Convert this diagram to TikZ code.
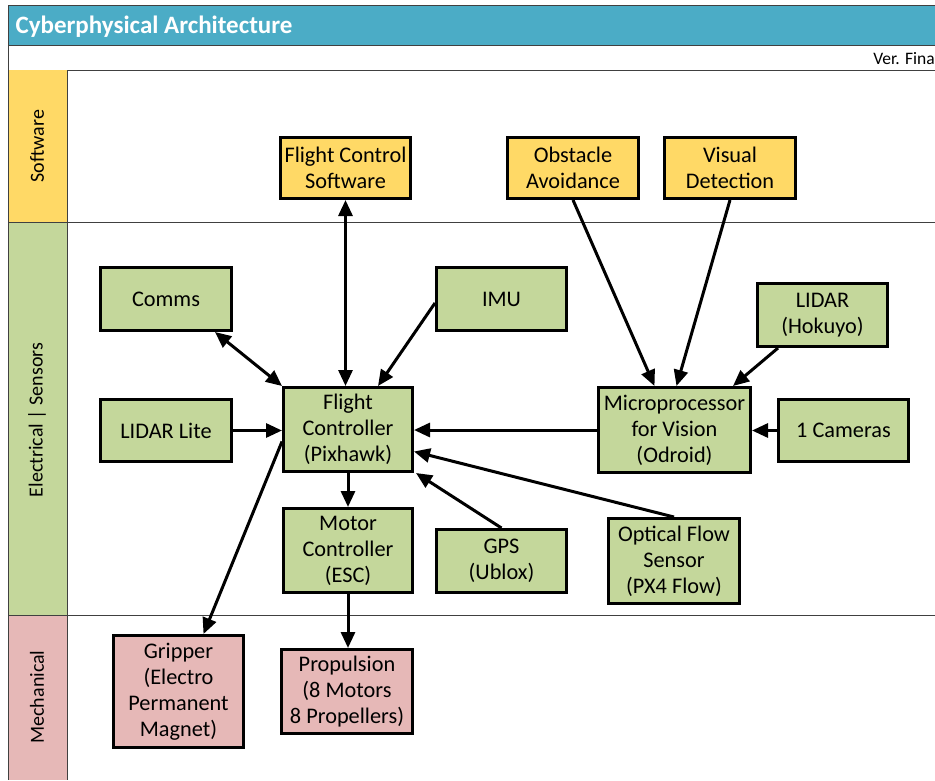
\documentclass[tikz,border=0pt]{standalone}
\usepackage{fontspec}
\setmainfont{Carlito}
\usetikzlibrary{arrows.meta}
\definecolor{hdr}{HTML}{4BACC6}
\definecolor{swfill}{HTML}{FFD966}
\definecolor{elfill}{HTML}{C4D79B}
\definecolor{mefill}{HTML}{E6B8B7}
\definecolor{rule}{HTML}{404040}
\begin{document}
\begin{tikzpicture}[x=1pt,y=-1pt,
  box/.style={draw=black, line width=3pt, align=center, inner sep=0pt,
    font=\fontsize{22.3}{26}\selectfont},
  swbox/.style={box, fill=swfill},
  elbox/.style={box, fill=elfill},
  mebox/.style={box, fill=mefill},
  tip/.tip={Triangle[length=16pt,width=14pt]},
  link/.style={line width=3pt, -tip},
  both/.style={line width=3pt, tip-tip},
  lanetxt/.style={rotate=90, font=\fontsize{20}{24}\selectfont},
  frame/.style={draw=rule, line width=1pt}]
\useasboundingbox (0,0) rectangle (935,780);

% title bars
\fill[hdr] (8,5) rectangle (935,45);
\draw[frame] (935,5) -- (8,5) -- (8,780);
\draw[frame] (8,45) -- (935,45);
\draw[frame] (8,70) -- (935,70);
\node[anchor=west, text=white, font=\bfseries\fontsize{25}{28}\selectfont] (title) at (12,27) {Cyberphysical Architecture};
\node[anchor=east, font=\fontsize{17.5}{20}\selectfont, inner sep=0pt] (ver) at (935,59) {Ver. Fina};

% swim lanes
\fill[swfill] (8,70) rectangle (67,222);
\fill[elfill] (8,222) rectangle (67,615);
\fill[mefill] (8,615) rectangle (67,780);
\draw[frame] (67,70) -- (67,780);
\draw[frame] (8,222) -- (935,222);
\draw[frame] (8,615) -- (935,615);
\draw[frame] (8,70) -- (8,780);
\node[lanetxt] (lsw) at (37,146) {Software};
\node[lanetxt] (lel) at (37,420) {Electrical | Sensors};
\node[lanetxt] (lme) at (37,697) {Mechanical};

% software
\node[swbox, minimum width=130pt, minimum height=61pt] (fcs) at (345.5,168) {Flight Control\\Software};
\node[swbox, minimum width=131pt, minimum height=61pt] (oa) at (573,168) {Obstacle\\Avoidance};
\node[swbox, minimum width=131pt, minimum height=61pt] (vd) at (730,168) {Visual\\Detection};

% electrical / sensors
\node[elbox, minimum width=131pt, minimum height=63pt] (comms) at (166,299) {Comms};
\node[elbox, minimum width=130pt, minimum height=63pt] (imu) at (501.5,299) {IMU};
\node[elbox, minimum width=130pt, minimum height=63pt] (hok) at (822.5,315) {LIDAR\\(Hokuyo)};
\node[elbox, minimum width=131pt, minimum height=62pt] (lite) at (166,430.5) {LIDAR Lite};
\node[elbox, minimum width=129pt, minimum height=84pt] (fc) at (348,429.5) {Flight\\Controller\\(Pixhawk)};
\node[elbox, minimum width=152pt, minimum height=85pt] (mp) at (674.5,430) {Microprocessor\\for Vision\\(Odroid)};
\node[elbox, minimum width=130pt, minimum height=62pt] (cam) at (843.5,430.5) {1 Cameras};
\node[elbox, minimum width=129pt, minimum height=84pt] (mc) at (348,550.5) {Motor\\Controller\\(ESC)};
\node[elbox, minimum width=130pt, minimum height=63pt] (gps) at (501.5,561) {GPS\\(Ublox)};
\node[elbox, minimum width=131pt, minimum height=85pt] (of) at (674,561) {Optical Flow\\Sensor\\(PX4 Flow)};

% mechanical
\node[mebox, minimum width=130pt, minimum height=112pt] (grip) at (178.5,691.5) {Gripper\\(Electro\\Permanent\\Magnet)};
\node[mebox, minimum width=131pt, minimum height=84pt] (prop) at (347,691.5) {Propulsion\\(8 Motors\\8 Propellers)};

% connectors
\draw[both] (fcs.south) -- (fcs.south |- fc.north);
\draw[both] ([xshift=-18pt]comms.south east) -- (fc.north west);
\draw[link] ([yshift=-4pt]imu.west) -- ([xshift=30pt]fc.north);
\draw[link] (lite.east) -- (fc.west |- lite.east);
\draw[link] (mp.west) -- (fc.east |- mp.west);
\draw[link] (oa.south) -- ([xshift=-20pt]mp.north);
\draw[link] (vd.south) -- ([xshift=2pt]mp.north);
\draw[link] ([xshift=22pt]hok.south west) -- ([xshift=-19pt]mp.north east);
\draw[link] (cam.west) -- (mp.east |- cam.west);
\draw[link] (fc.south) -- (fc.south |- mc.north);
\draw[link] (gps.north) -- ([xshift=2pt]fc.south east);
\draw[link] (of.north) -- ([yshift=-22pt]fc.east);
\draw[link] ([yshift=-12pt]fc.west) -- ([xshift=25pt]grip.north);
\draw[link] (mc.south) -- (mc.south |- prop.north);
\end{tikzpicture}
\end{document}
